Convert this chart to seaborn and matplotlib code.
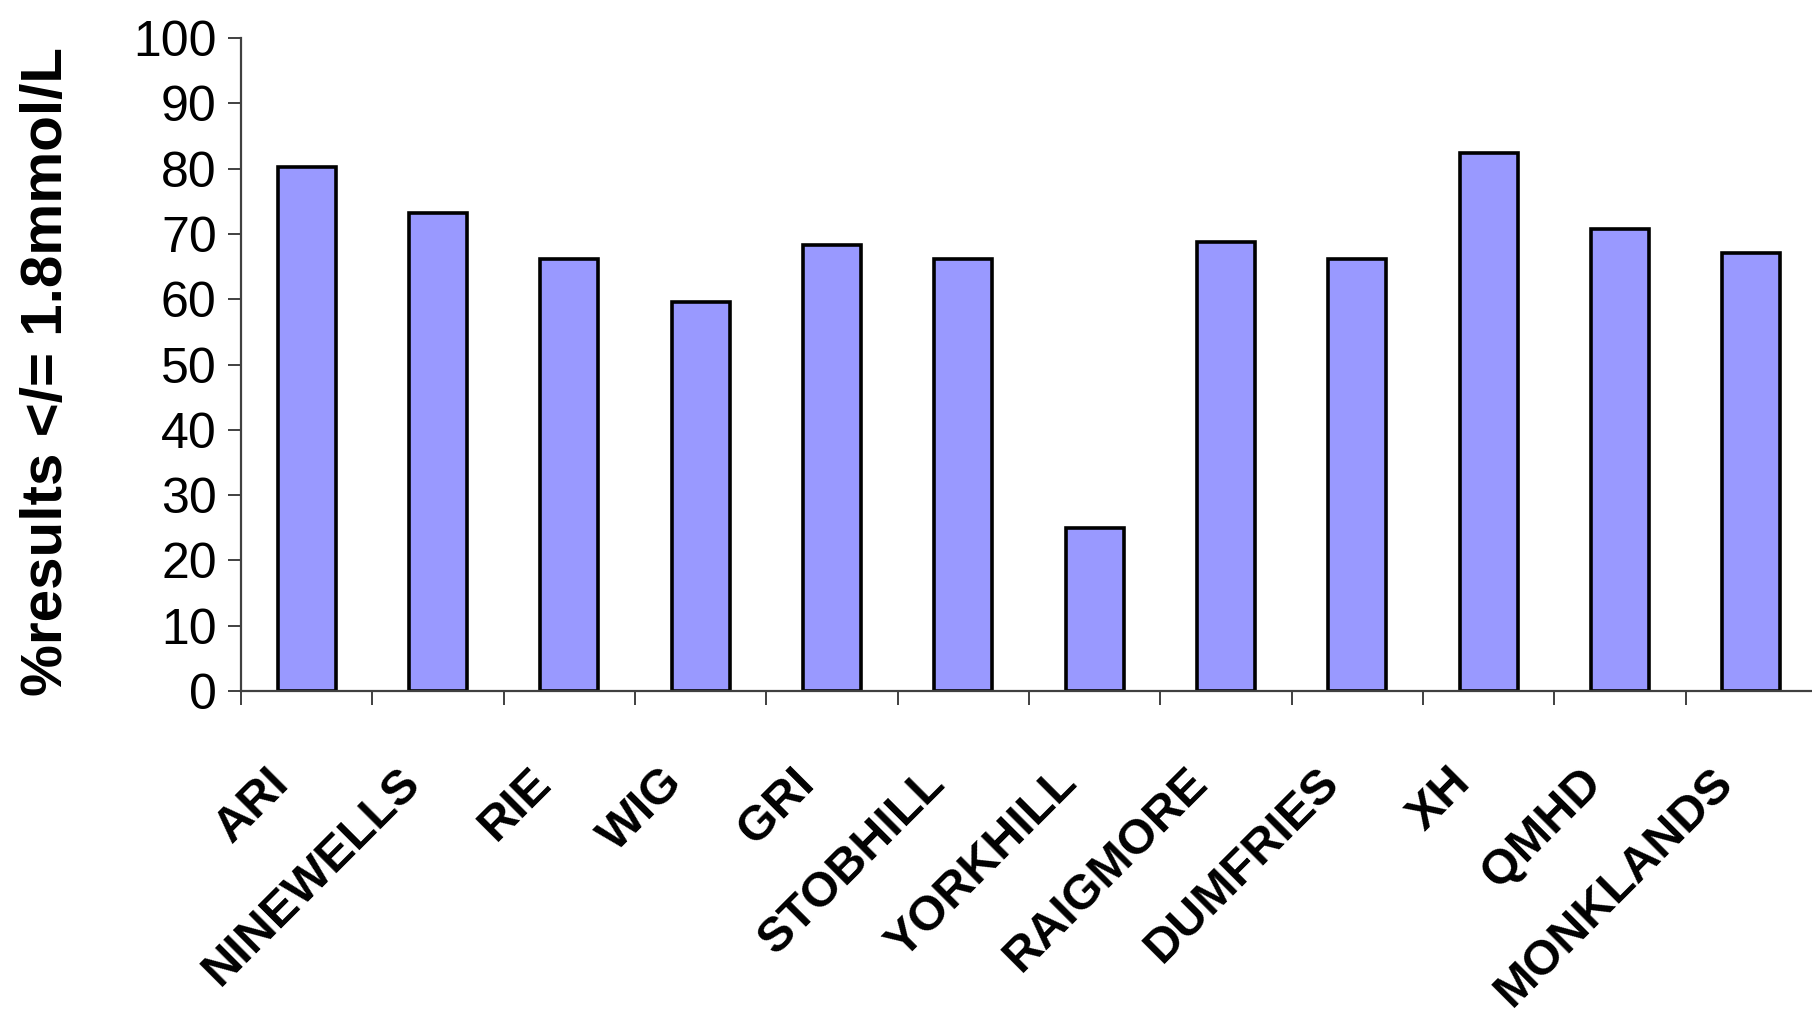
import matplotlib
matplotlib.use('Agg')
import matplotlib.pyplot as plt
from matplotlib.transforms import ScaledTranslation
from matplotlib.ticker import FixedLocator
import seaborn as sns
import pandas as pd
import numpy as np

# Data
hospitals = ['ARI', 'NINEWELLS', 'RIE', 'WIG', 'GRI', 'STOBHILL', 'YORKHILL',
             'RAIGMORE', 'DUMFRIES', 'XH', 'QMHD', 'MONKLANDS']
pct_results = [80.2, 73.2, 66.2, 59.5, 68.3, 66.2, 25.0, 68.8, 66.2, 82.4, 70.8, 67.1]
y_ticks = list(range(0, 101, 10))

df = pd.DataFrame({'hospital': hospitals, 'pct': pct_results})

sns.set_style('white')
plt.rcParams['font.family'] = ['Liberation Sans', 'DejaVu Sans']
plt.rcParams['text.color'] = 'black'
plt.rcParams['axes.labelcolor'] = 'black'
plt.rcParams['xtick.color'] = 'black'
plt.rcParams['ytick.color'] = 'black'

fig = plt.figure(figsize=(18.12, 10.22), dpi=100)
ax = fig.add_axes([241 / 1812, 331 / 1022, 1576 / 1812, 653 / 1022])

sns.barplot(data=df, x='hospital', y='pct', color='#9999ff', saturation=1,
            edgecolor='black', linewidth=2.6, width=0.44, ax=ax)

ax.set_xlim(-0.5, len(hospitals) - 0.5)
ax.set_ylim(0, 100)
ax.set_yticks(y_ticks)
ax.set_yticklabels([str(t) for t in y_ticks], fontsize=36, color='black')

# Excel style: tick marks between categories, labels at centres
ax.xaxis.set_minor_locator(FixedLocator(np.arange(-0.5, len(hospitals), 1.0)))
ax.tick_params(axis='x', which='major', length=0, pad=61, bottom=True)
ax.tick_params(axis='x', which='minor', length=10, width=1.4, color='#404040',
               direction='out', bottom=True)
ax.tick_params(axis='y', which='major', length=9.5, width=1.4, color='#404040',
               direction='out', pad=8, left=True)
ax.set_xticks(range(len(hospitals)))
ax.set_xticklabels(hospitals, rotation=45, ha='right', va='center',
                   rotation_mode='anchor', fontsize=35, fontweight='bold', color='black')
shift = ScaledTranslation(-25 / 100, 0, fig.dpi_scale_trans)
for lbl in ax.get_xticklabels():
    lbl.set_transform(lbl.get_transform() + shift)

ax.set_xlabel('')
ax.set_ylabel('%results </= 1.8mmol/L', fontsize=42, fontweight='bold', color='black')
ax.yaxis.set_label_coords(-167 / 1576, 0.49)

sns.despine(ax=ax, top=True, right=True)
for side in ['left', 'bottom']:
    ax.spines[side].set_color('#404040')
    ax.spines[side].set_linewidth(1.6)

fig.savefig('out.png', dpi=100, facecolor='white')
